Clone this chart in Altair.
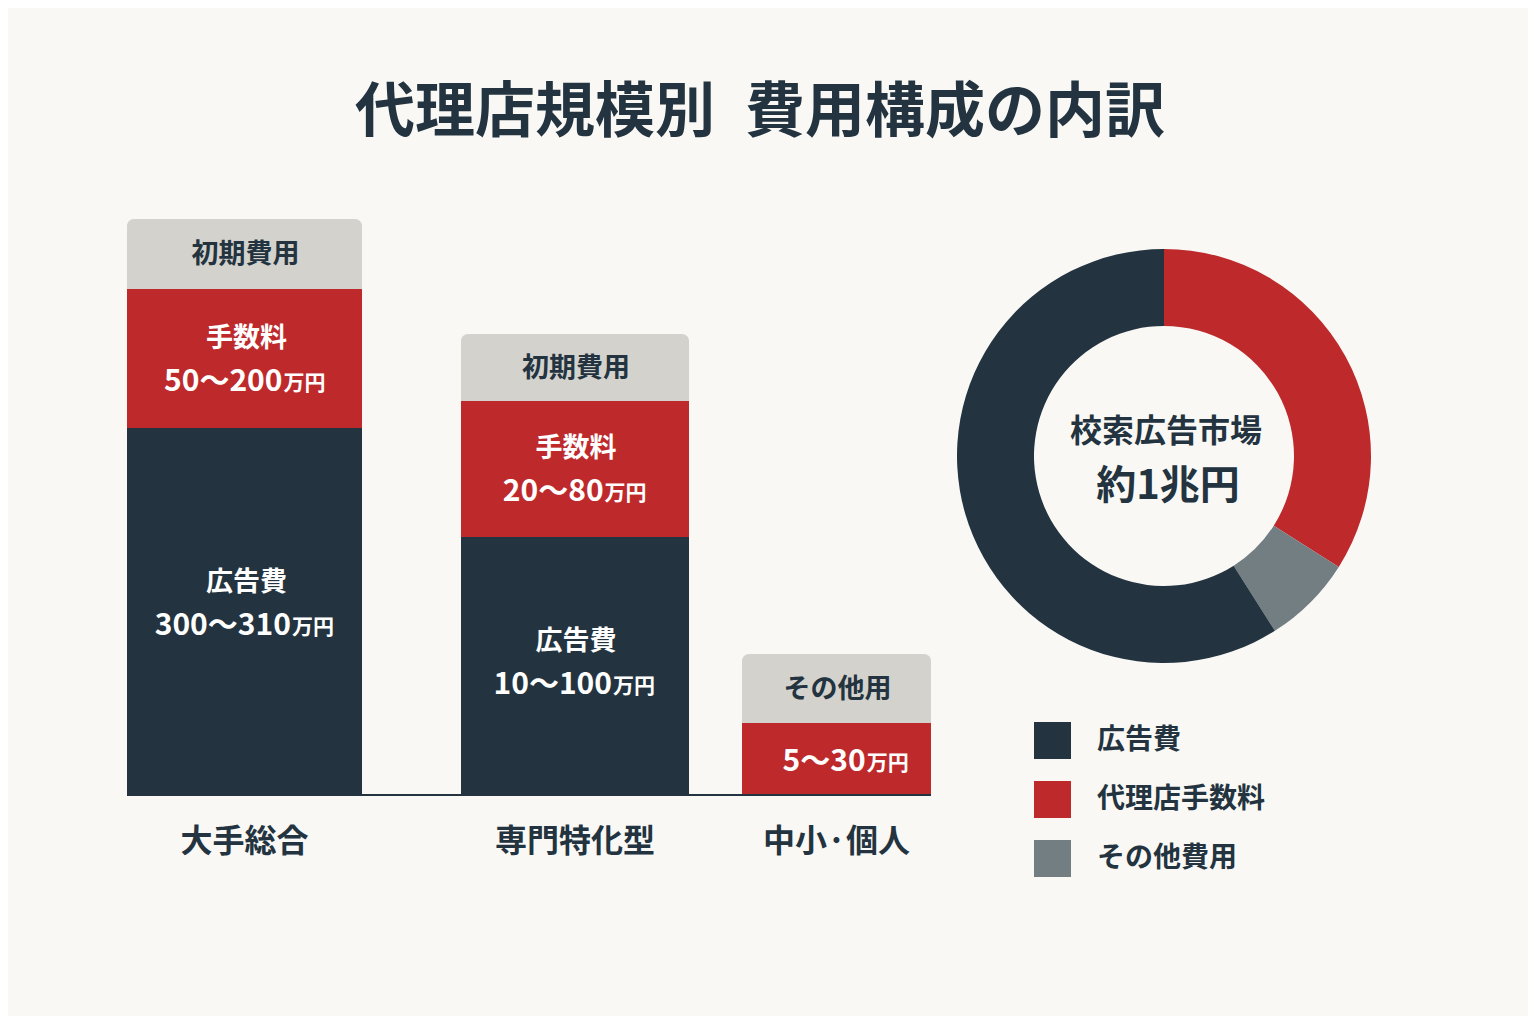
import altair as alt
import pandas as pd

# ---------------- data ----------------
TITLE = "代理店規模別\u2002費用構成の内訳"
CATEGORIES = ["大手総合", "専門特化型", "中小·個人"]
AD_HEIGHT = [367, 258, 0]        # 広告費 segment (relative height)
FEE_HEIGHT = [139, 136, 72]      # 手数料 segment
TOP_HEIGHT = [70, 67, 69]        # 初期費用 / その他 segment
TOP_LABELS = ["初期費用", "初期費用", "その他用"]
FEE_NAMES = ["手数料", "手数料", ""]
FEE_RANGES = ["50～200", "20～80", "5～30"]
AD_NAMES = ["広告費", "広告費", ""]
AD_RANGES = ["300～310", "10～100", ""]
UNIT = "万円"

DONUT_NAMES = ["代理店手数料", "その他費用", "広告費"]
DONUT_SHARES = [34, 7, 59]
LEGEND_ORDER = ["広告費", "代理店手数料", "その他費用"]
DONUT_TITLE = "校索広告市場"
DONUT_VALUE = "約1兆円"

# ---------------- layout / style ----------------
FONT = "Noto Sans CJK JP"
BG = "#f9f8f5"
DARK = "#233440"
RED = "#be2a2b"
LIGHT = "#d4d2cd"
GREY = "#737e83"
W, H = 1520, 1008
BAR_X = {"大手総合": (127, 362), "専門特化型": (461, 689), "中小·個人": (742, 931)}
LABEL_DX = {"大手総合": 2, "専門特化型": 1, "中小·個人": 10}
LABEL_DY = {"大手総合": 8, "専門特化型": 3, "中小·個人": 0}   # ad-label lift

xs = alt.Scale(domain=[8, 8 + W], range=[0, W], nice=False, zero=False)
ys = alt.Scale(domain=[0, 600], range=[787, 187], nice=False, zero=False)

segs, tops, texts_name, nums = [], [], [], []
for i, c in enumerate(CATEGORIES):
    x0, x1 = BAR_X[c]
    y = 0
    for k, (h, col, nm, rng) in enumerate([(AD_HEIGHT[i], DARK, AD_NAMES[i], AD_RANGES[i]),
                                           (FEE_HEIGHT[i], RED, FEE_NAMES[i], FEE_RANGES[i])]):
        if h > 0:
            segs.append(dict(cat=c, x0=x0, x1=x1, y0=y, y1=y + h, color=col))
            mid = y + h / 2 + (LABEL_DY[c] if k == 0 else -1)
            cx = (x0 + x1) / 2 + LABEL_DX[c]
            if nm:
                texts_name.append(dict(x=cx, y=mid + 21, t=nm))
                ny = mid - 22
            else:
                ny = mid - 2
            # approximate widths to centre number+unit together
            wn = sum(30 if ch == "～" else 16.8 for ch in rng)
            wu = 42
            shift = (wn - wu) / 2
            nums.append(dict(xn=cx + shift, xu=cx + shift + 1, y=ny, t=rng, u=UNIT))
        y += h
    tops.append(dict(cat=c, x0=x0, x1=x1, y0=y, y1=y + TOP_HEIGHT[i],
                     mid=y + TOP_HEIGHT[i] / 2 - 1, cx=(x0 + x1) / 2 + 1, t=TOP_LABELS[i]))

seg_df = pd.DataFrame(segs)
top_df = pd.DataFrame(tops)
name_df = pd.DataFrame(texts_name)
num_df = pd.DataFrame(nums)
cat_df = pd.DataFrame(dict(cat=CATEGORIES,
                           cx=[(BAR_X[c][0] + BAR_X[c][1]) / 2 for c in CATEGORIES],
                           y=[-47] * 3))
base_df = pd.DataFrame(dict(x0=[BAR_X[CATEGORIES[0]][0]], x1=[BAR_X[CATEGORIES[-1]][1]], y=[0]))
donut_df = pd.DataFrame(dict(name=DONUT_NAMES, share=DONUT_SHARES, idx=[0, 1, 2]))

bars = alt.Chart(seg_df).mark_rect().encode(
    x=alt.X("x0:Q", scale=xs, axis=None), x2="x1:Q",
    y=alt.Y("y0:Q", scale=ys, axis=None), y2="y1:Q",
    color=alt.Color("color:N", scale=None),
)
topbars = alt.Chart(top_df).mark_rect(
    color=LIGHT, cornerRadiusTopLeft=7, cornerRadiusTopRight=7
).encode(
    x=alt.X("x0:Q", scale=xs, axis=None), x2="x1:Q",
    y=alt.Y("y0:Q", scale=ys, axis=None), y2="y1:Q",
)
baseline = alt.Chart(base_df).mark_rule(color=DARK, strokeWidth=2).encode(
    x=alt.X("x0:Q", scale=xs, axis=None), x2="x1:Q",
    y=alt.Y("y:Q", scale=ys, axis=None),
)
top_text = alt.Chart(top_df).mark_text(
    font=FONT, fontSize=27, fontWeight="bold", color=DARK, baseline="middle"
).encode(x=alt.X("cx:Q", scale=xs, axis=None), y=alt.Y("mid:Q", scale=ys, axis=None), text="t:N")
name_text = alt.Chart(name_df).mark_text(
    font=FONT, fontSize=27, fontWeight="bold", color="white", baseline="middle"
).encode(x=alt.X("x:Q", scale=xs, axis=None), y=alt.Y("y:Q", scale=ys, axis=None), text="t:N")
num_text = alt.Chart(num_df).mark_text(
    font=FONT, fontSize=30, fontWeight="bold", color="white", baseline="middle", align="right"
).encode(x=alt.X("xn:Q", scale=xs, axis=None), y=alt.Y("y:Q", scale=ys, axis=None), text="t:N")
unit_text = alt.Chart(num_df).mark_text(
    font=FONT, fontSize=21, fontWeight="bold", color="white", baseline="middle", align="left", dy=2
).encode(x=alt.X("xu:Q", scale=xs, axis=None), y=alt.Y("y:Q", scale=ys, axis=None), text="u:N")
cat_text = alt.Chart(cat_df).mark_text(
    font=FONT, fontSize=32, fontWeight="bold", color=DARK, baseline="middle"
).encode(x=alt.X("cx:Q", scale=xs, axis=None), y=alt.Y("y:Q", scale=ys, axis=None), text="cat:N")

title = alt.Chart(pd.DataFrame(dict(t=[TITLE]))).mark_text(
    font=FONT, fontSize=60, fontWeight="bold", color=DARK, baseline="middle"
).encode(x=alt.value(752), y=alt.value(106), text="t:N")

donut = alt.Chart(donut_df).mark_arc(outerRadius=207, innerRadius=130).encode(
    theta=alt.Theta("share:Q", stack=True),
    order=alt.Order("idx:Q"),
    color=alt.Color(
        "name:N",
        scale=alt.Scale(domain=LEGEND_ORDER, range=[DARK, RED, GREY]),
        legend=alt.Legend(
            orient="none", legendX=1026, legendY=714, title=None,
            symbolType="square", symbolSize=1369, symbolStrokeWidth=0, symbolOpacity=1,
            labelFontSize=28, labelFont=FONT, labelFontWeight="bold", labelColor=DARK,
            labelOffset=26, rowPadding=22, padding=0, labelLimit=400,
        ),
    ),
    x=alt.value(1156), y=alt.value(448),
)
donut_t1 = alt.Chart(pd.DataFrame(dict(t=[DONUT_TITLE]))).mark_text(
    font=FONT, fontSize=32, fontWeight="bold", color=DARK, baseline="middle"
).encode(x=alt.value(1158), y=alt.value(424), text="t:N")
donut_t2 = alt.Chart(pd.DataFrame(dict(t=[DONUT_VALUE]))).mark_text(
    font=FONT, fontSize=40, fontWeight="bold", color=DARK, baseline="middle"
).encode(x=alt.value(1160), y=alt.value(479), text="t:N")

chart = alt.layer(
    bars, topbars, baseline, top_text, name_text, num_text, unit_text, cat_text,
    title, donut, donut_t1, donut_t2
).properties(
    width=W, height=H, background=BG, padding=0,
    autosize=alt.AutoSizeParams(type="none"),
).configure_view(stroke=None)

chart.save("out.html", embed_options={"renderer": "svg", "actions": False})
